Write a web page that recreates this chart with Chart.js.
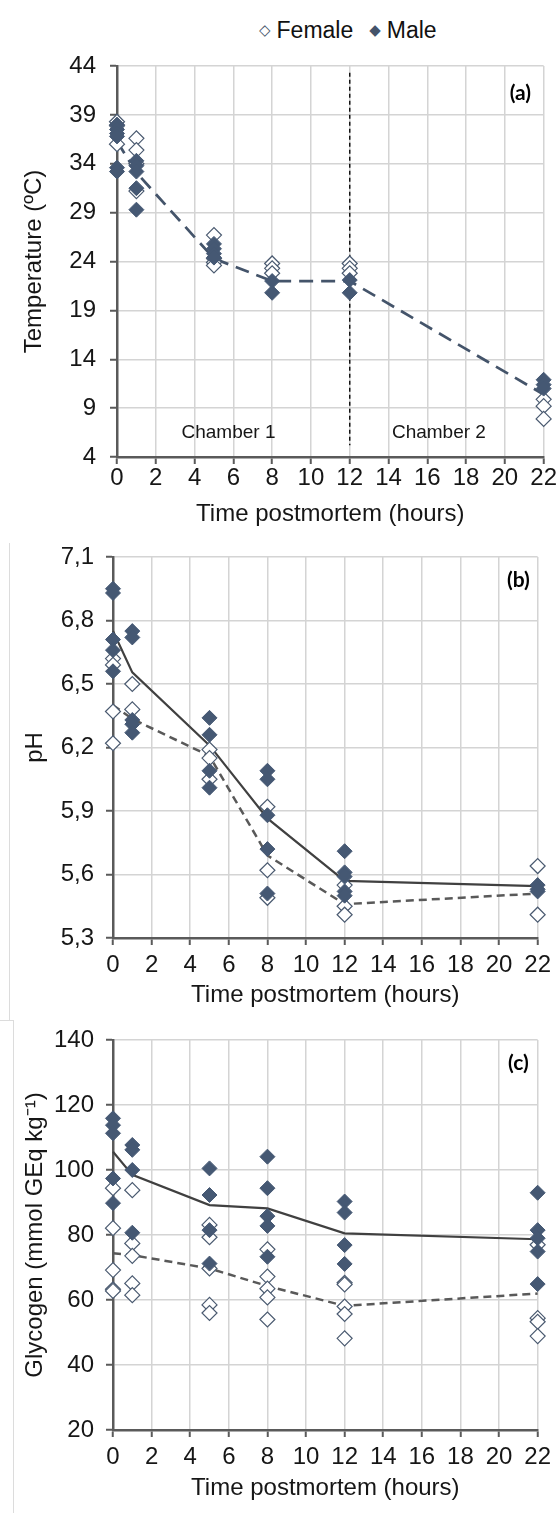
<!DOCTYPE html>
<html>
<head>
<meta charset="utf-8">
<script src="https://cdn.jsdelivr.net/npm/chart.js@4.4.1/dist/chart.umd.min.js"></script>
<style>
    html, body { margin: 0; padding: 0; background: #fff; }
    body { width: 557px; height: 1513px; position: relative; overflow: hidden; font-family: "Liberation Sans", Arial, sans-serif; }
    canvas { position: absolute; left: 0; }
    .legend { position: absolute; top: 15px; left: 259px; font-size: 23px; line-height: 30px; color: #111; white-space: nowrap; }
    .legend .mk { font-family: "DejaVu Sans", sans-serif; font-size: 15px; color: #44546a; position: relative; top: -3px; margin-right: 6px; }
    .legend .gap { display: inline-block; width: 16px; }
    .edge { position: absolute; background: #dcdcdc; }
</style>
</head>
<body>
<div class="legend"><span class="mk">&#9671;</span>Female<span class="gap"></span><span class="mk">&#9670;</span>Male</div>
<div class="edge" style="left:9px; top:543px; width:1px; height:477px;"></div>
<div class="edge" style="left:0; top:1020px; width:14px; height:1px;"></div>
<div class="edge" style="left:13px; top:1020px; width:1px; height:493px;"></div>
<canvas id="chartA" width="557" height="530" style="top:0"></canvas>
<canvas id="chartB" width="557" height="480" style="top:530px"></canvas>
<canvas id="chartC" width="557" height="503" style="top:1010px"></canvas>
<script>
const HOURS = [0, 1, 5, 8, 12, 22];
const X_TICKS = [0, 2, 4, 6, 8, 10, 12, 14, 16, 18, 20, 22];

// (a) temperature, one list per sampling time
const tempFemale = [[38.3, 37.9, 36.0], [36.6, 35.4, 34.0, 31.2], [26.7, 24.3, 23.9, 23.6], [23.8, 23.3, 22.8], [23.8, 23.3, 22.8], [9.9, 9.2, 7.9]];
const tempMale = [[38.0, 37.5, 37.1, 36.8, 33.6, 33.2], [34.3, 33.8, 33.2, 31.5, 29.3], [25.8, 25.3, 24.8, 24.4], [22.0, 20.8], [22.1, 20.8], [11.9, 11.4, 11.0]];
const tempMean = [36.3, 33.1, 24.3, 22.0, 22.0, 10.4];
const tempTicks = [4, 9, 14, 19, 24, 29, 34, 39, 44];
const chamberSplit = [43.3, 5.2];

// (b) pH
const phFemale = [[6.62, 6.59, 6.37, 6.22], [6.50, 6.38], [6.19, 6.15, 6.05], [5.92, 5.62, 5.49], [5.55, 5.45, 5.41], [5.64, 5.41]];
const phMale = [[6.95, 6.93, 6.71, 6.66, 6.56], [6.75, 6.72, 6.33, 6.31, 6.27], [6.34, 6.26, 6.09, 6.01], [6.09, 6.05, 5.88, 5.72, 5.51], [5.71, 5.61, 5.59, 5.52, 5.50], [5.55, 5.53, 5.52]];
const phFemaleMean = [6.40, 6.335, 6.16, 5.69, 5.46, 5.51];
const phMaleMean = [6.75, 6.555, 6.21, 5.865, 5.57, 5.545];
const phTicks = [5.3, 5.6, 5.9, 6.2, 6.5, 6.8, 7.1];

// (c) glycogen
const glyFemale = [[94.4, 82.1, 69.2, 63.3, 62.8], [93.8, 77.4, 73.6, 65.1, 61.5], [83.1, 79.3, 69.7, 58.5, 56.0], [75.6, 67.2, 63.5, 60.8, 54.0], [65.3, 64.8, 58.0, 55.7, 48.2], [77.0, 54.4, 53.3, 48.9]];
const glyMale = [[115.9, 113.8, 111.3, 97.4, 89.8], [107.7, 106.2, 100.0, 80.7], [100.5, 92.3, 81.5, 71.2], [104.1, 94.4, 85.8, 82.8, 73.3], [90.3, 86.9, 76.9, 71.1], [93.0, 81.5, 79.0, 74.9, 64.9]];
const glyFemaleMean = [74.4, 73.8, 69.7, 64.3, 58.2, 62.0];
const glyMaleMean = [105.6, 98.5, 89.2, 88.2, 80.5, 78.7];
const glyTicks = [20, 40, 60, 80, 100, 120, 140];

const COLORS = {
    male: '#455873',
    femaleEdge: '#4a5a70',
    trend: '#44546a',
    solid: '#404040',
    dashed: '#595959',
    grid: '#d4d4d4',
    axis: '#5a5a5a',
    text: '#161616',
};
const FONT = '"Liberation Sans", Arial, sans-serif';
const SIZE = 24;

function spread(groups) {
    const out = [];
    groups.forEach((vals, i) => vals.forEach((v) => out.push({ x: HOURS[i], y: v })));
    return out;
}

function trace(vals) {
    return vals.map((v, i) => ({ x: HOURS[i], y: v }));
}

function markers(label, groups, filled) {
    return {
        label,
        data: spread(groups),
        pointStyle: 'rectRot',
        pointRadius: 7.5,
        pointBorderWidth: filled ? 1 : 1.2,
        pointBackgroundColor: filled ? COLORS.male : '#ffffff',
        pointBorderColor: filled ? COLORS.male : COLORS.femaleEdge,
        showLine: false,
        clip: false,
    };
}

function line(label, vals, color, dash, width) {
    return {
        label,
        data: trace(vals),
        showLine: true,
        borderColor: color,
        borderWidth: width,
        borderDash: dash,
        pointRadius: 0,
        tension: 0,
        clip: false,
    };
}

// free text placed in data units (panel letter, chamber names)
const panelText = {
    id: 'panelText',
    afterDatasetsDraw(chart, args, opts) {
        const { ctx, scales: { x, y } } = chart;
        (opts.items || []).forEach((t) => {
            ctx.save();
            ctx.font = t.font;
            ctx.fillStyle = t.color || COLORS.text;
            ctx.textAlign = 'center';
            ctx.textBaseline = 'middle';
            ctx.fillText(t.text, x.getPixelForValue(t.x), y.getPixelForValue(t.y));
            ctx.restore();
        });
    },
};

function createChart(canvas, cfg) {
    return new Chart(canvas, {
        type: 'scatter',
        data: { datasets: cfg.datasets },
        plugins: [panelText],
        options: {
            responsive: false,
            animation: false,
            events: [],
            layout: { padding: { top: cfg.top, right: cfg.right, left: 0, bottom: 0 } },
            plugins: {
                legend: { display: false },
                tooltip: { enabled: false },
                panelText: { items: cfg.texts },
            },
            scales: {
                x: {
                    type: 'linear',
                    min: 0,
                    max: 22,
                    afterBuildTicks: (s) => { s.ticks = X_TICKS.map((v) => ({ value: v })); },
                    afterFit: (s) => { s.height = cfg.xHeight; },
                    grid: { color: COLORS.grid, lineWidth: 1.5, tickColor: COLORS.axis, tickLength: 7, tickWidth: 2 },
                    border: { color: COLORS.axis, width: 2.5 },
                    ticks: { color: COLORS.text, font: { family: FONT, size: SIZE }, padding: cfg.xPad, maxRotation: 0, autoSkip: false },
                    title: { display: true, text: 'Time postmortem (hours)', color: COLORS.text, font: { family: FONT, size: SIZE }, padding: { top: 0, bottom: cfg.xTitlePad } },
                },
                y: {
                    type: 'linear',
                    min: cfg.yTicks[0],
                    max: cfg.yTicks[cfg.yTicks.length - 1],
                    afterBuildTicks: (s) => { s.ticks = cfg.yTicks.map((v) => ({ value: v })); },
                    afterFit: (s) => { s.width = cfg.yWidth; },
                    grid: { color: COLORS.grid, lineWidth: 1.5, tickColor: COLORS.axis, tickLength: 7, tickWidth: 2 },
                    border: { color: COLORS.axis, width: 2.5 },
                    ticks: { color: COLORS.text, font: { family: FONT, size: SIZE }, padding: cfg.yPad, autoSkip: false, callback: cfg.fmt },
                    title: { display: true, text: cfg.yTitle, color: COLORS.text, font: { family: FONT, size: SIZE }, padding: { top: cfg.yTitlePad, bottom: 0 } },
                },
            },
        },
    });
}

const comma = (v) => v.toFixed(1).replace('.', ',');

createChart(document.getElementById('chartA'), {
    top: 66, right: 11, yWidth: 117, xHeight: 73, xPad: 0, yPad: 14, xTitlePad: 1, yTitlePad: 20,
    yTicks: tempTicks,
    yTitle: 'Temperature (ºC)',
    fmt: (v) => String(v),
    texts: [
        { text: '(a)', x: 20.8, y: 41.2, font: 'bold 21px Lato, "Open Sans", sans-serif', color: '#000' },
        { text: 'Chamber 1', x: 5.75, y: 6.5, font: '19px ' + FONT },
        { text: 'Chamber 2', x: 16.6, y: 6.5, font: '19px ' + FONT },
    ],
    datasets: [
        markers('Male', tempMale, true),
        markers('Female', tempFemale, false),
        line('Mean', tempMean, COLORS.trend, [14, 8], 2.75),
        {
            label: 'Chamber split',
            data: chamberSplit.map((v) => ({ x: 12, y: v })),
            showLine: true,
            borderColor: '#111',
            borderWidth: 1.5,
            borderDash: [4, 3],
            pointRadius: 0,
        },
    ],
});

createChart(document.getElementById('chartB'), {
    top: 27, right: 10, yWidth: 113, xHeight: 72, xPad: 6, yPad: 12, xTitlePad: 0, yTitlePad: 21,
    yTicks: phTicks,
    yTitle: 'pH',
    fmt: comma,
    texts: [
        { text: '(b)', x: 21.0, y: 6.99, font: 'bold 21px Lato, "Open Sans", sans-serif', color: '#000' },
    ],
    datasets: [
        markers('Male', phMale, true),
        markers('Female', phFemale, false),
        line('Male mean', phMaleMean, COLORS.solid, [], 2.2),
        line('Female mean', phFemaleMean, COLORS.dashed, [8, 5], 2.5),
    ],
});

createChart(document.getElementById('chartC'), {
    top: 30, right: 8, yWidth: 113, xHeight: 83, xPad: 6, yPad: 12, xTitlePad: 10, yTitlePad: 21,
    yTicks: glyTicks,
    yTitle: 'Glycogen (mmol GEq kg\u207B\u00B9)',
    fmt: (v) => String(v),
    texts: [
        { text: '(c)', x: 21.0, y: 132.9, font: 'bold 21px Lato, "Open Sans", sans-serif', color: '#000' },
    ],
    datasets: [
        markers('Male', glyMale, true),
        markers('Female', glyFemale, false),
        line('Male mean', glyMaleMean, COLORS.solid, [], 2.2),
        line('Female mean', glyFemaleMean, COLORS.dashed, [8, 5], 2.5),
    ],
});
</script>
</body>
</html>
